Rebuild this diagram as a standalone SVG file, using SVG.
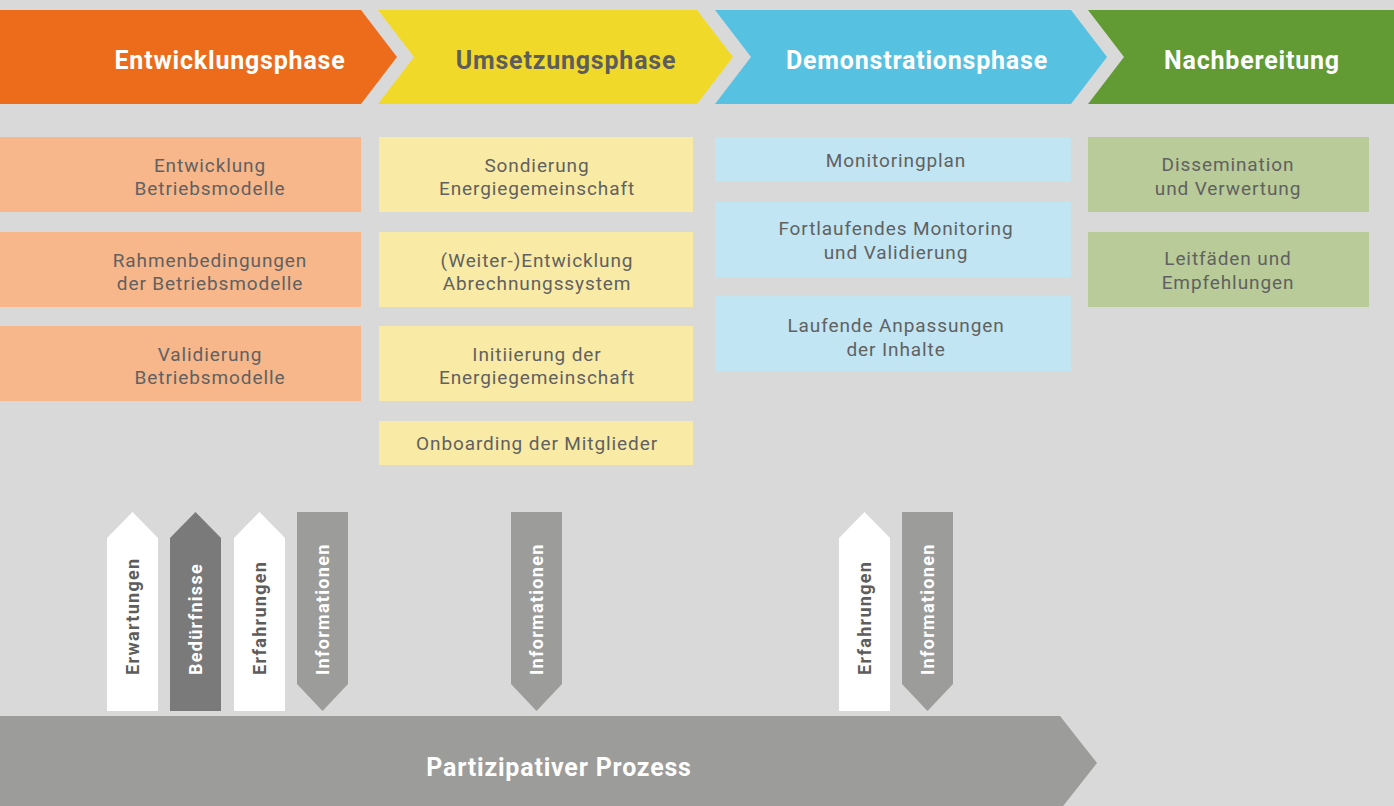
<svg xmlns="http://www.w3.org/2000/svg" width="1394" height="806" viewBox="0 0 1394 806">
  <style>
    .title { font-family: Roboto, "Liberation Sans", sans-serif; font-weight: 700; font-size: 25px; text-anchor: middle; letter-spacing: 0.8px; }
    .light { fill: #ffffff; }
    .dark { fill: #5d5d5d; }
    .box-text { font-family: Roboto, "Liberation Sans", sans-serif; font-size: 19px; fill: #616161; text-anchor: middle; letter-spacing: 0.9px; }
    .vert { font-family: Roboto, "Liberation Sans", sans-serif; font-weight: 700; font-size: 18px; letter-spacing: 1.3px; }
    .o1 { fill: #ec6c1b; } .o2 { fill: #f7b78b; }
    .y1 { fill: #f1d92a; } .y2 { fill: #f9eba6; }
    .b1 { fill: #56c1e1; } .b2 { fill: #c1e5f3; }
    .g1 { fill: #629b34; } .g2 { fill: #b9cb99; }
    .a-white { fill: #ffffff; } .a-dark { fill: #7a7a7a; } .a-mid { fill: #9c9c9b; }
  </style>

  <rect width="1394" height="806" fill="#d9d9d9"/>

  <!-- phase chevrons -->
  <g id="phase-entwicklung">
    <polygon class="o1" points="0,10 361,10 397,57 361,104 0,104"/>
    <text class="title light" x="230" y="69">Entwicklungsphase</text>
  </g>
  <g id="phase-umsetzung">
    <polygon class="y1" points="378,10 697,10 733,57 697,104 378,104 414,57"/>
    <text class="title dark" x="566" y="69">Umsetzungsphase</text>
  </g>
  <g id="phase-demonstration">
    <polygon class="b1" points="715,10 1071,10 1107,57 1071,104 715,104 751,57"/>
    <text class="title light" x="917" y="69">Demonstrationsphase</text>
  </g>
  <g id="phase-nachbereitung">
    <polygon class="g1" points="1088,10 1394,10 1394,104 1088,104 1124,57"/>
    <text class="title light" x="1252" y="69">Nachbereitung</text>
  </g>

  <!-- Entwicklungsphase tasks -->
  <g id="task-entwicklung-betriebsmodelle">
    <rect class="o2" x="0" y="137" width="361" height="75"/>
    <text class="box-text" x="210" y="172">Entwicklung</text>
    <text class="box-text" x="210" y="195">Betriebsmodelle</text>
  </g>
  <g id="task-rahmenbedingungen">
    <rect class="o2" x="0" y="232" width="361" height="75"/>
    <text class="box-text" x="210" y="267">Rahmenbedingungen</text>
    <text class="box-text" x="210" y="290">der Betriebsmodelle</text>
  </g>
  <g id="task-validierung-betriebsmodelle">
    <rect class="o2" x="0" y="326" width="361" height="75"/>
    <text class="box-text" x="210" y="361">Validierung</text>
    <text class="box-text" x="210" y="384">Betriebsmodelle</text>
  </g>

  <!-- Umsetzungsphase tasks -->
  <g id="task-sondierung">
    <rect class="y2" x="379" y="137" width="314" height="75"/>
    <text class="box-text" x="537" y="172">Sondierung</text>
    <text class="box-text" x="537" y="195">Energiegemeinschaft</text>
  </g>
  <g id="task-abrechnungssystem">
    <rect class="y2" x="379" y="232" width="314" height="75"/>
    <text class="box-text" x="537" y="267">(Weiter-)Entwicklung</text>
    <text class="box-text" x="537" y="290">Abrechnungssystem</text>
  </g>
  <g id="task-initiierung">
    <rect class="y2" x="379" y="326" width="314" height="75"/>
    <text class="box-text" x="537" y="361">Initiierung der</text>
    <text class="box-text" x="537" y="384">Energiegemeinschaft</text>
  </g>
  <g id="task-onboarding">
    <rect class="y2" x="379" y="421" width="314" height="44"/>
    <text class="box-text" x="537" y="450">Onboarding der Mitglieder</text>
  </g>

  <!-- Demonstrationsphase tasks -->
  <g id="task-monitoringplan">
    <rect class="b2" x="715" y="137" width="356" height="45"/>
    <text class="box-text" x="896" y="167">Monitoringplan</text>
  </g>
  <g id="task-monitoring">
    <rect class="b2" x="715" y="202" width="356" height="75"/>
    <text class="box-text" x="896" y="235">Fortlaufendes Monitoring</text>
    <text class="box-text" x="896" y="259">und Validierung</text>
  </g>
  <g id="task-anpassungen">
    <rect class="b2" x="715" y="296" width="356" height="75"/>
    <text class="box-text" x="896" y="332">Laufende Anpassungen</text>
    <text class="box-text" x="896" y="356">der Inhalte</text>
  </g>

  <!-- Nachbereitung tasks -->
  <g id="task-dissemination">
    <rect class="g2" x="1088" y="137" width="281" height="75"/>
    <text class="box-text" x="1228" y="171">Dissemination</text>
    <text class="box-text" x="1228" y="195">und Verwertung</text>
  </g>
  <g id="task-leitfaeden">
    <rect class="g2" x="1088" y="232" width="281" height="75"/>
    <text class="box-text" x="1228" y="265">Leitfäden und</text>
    <text class="box-text" x="1228" y="289">Empfehlungen</text>
  </g>

  <!-- participation flows: upward = input, downward = information -->
  <g id="flows">
    <g id="flow-erwartungen">
      <polygon class="a-white" points="107,538 132.5,512 158,538 158,711 107,711"/>
      <text class="vert dark" transform="translate(139,675) rotate(-90)">Erwartungen</text>
    </g>
    <g id="flow-beduerfnisse">
      <polygon class="a-dark" points="170,538 195.5,512 221,538 221,711 170,711"/>
      <text class="vert light" transform="translate(202,675) rotate(-90)">Bedürfnisse</text>
    </g>
    <g id="flow-erfahrungen-1">
      <polygon class="a-white" points="234,538 259.5,512 285,538 285,711 234,711"/>
      <text class="vert dark" transform="translate(266,675) rotate(-90)">Erfahrungen</text>
    </g>
    <g id="flow-informationen-1">
      <polygon class="a-mid" points="297,512 348,512 348,684 322.5,711 297,684"/>
      <text class="vert light" transform="translate(329,675) rotate(-90)">Informationen</text>
    </g>
    <g id="flow-informationen-2">
      <polygon class="a-mid" points="511,512 562,512 562,684 536.5,711 511,684"/>
      <text class="vert light" transform="translate(543,675) rotate(-90)">Informationen</text>
    </g>
    <g id="flow-erfahrungen-2">
      <polygon class="a-white" points="839,538 864.5,512 890,538 890,711 839,711"/>
      <text class="vert dark" transform="translate(871,675) rotate(-90)">Erfahrungen</text>
    </g>
    <g id="flow-informationen-3">
      <polygon class="a-mid" points="902,512 953,512 953,684 927.5,711 902,684"/>
      <text class="vert light" transform="translate(934,675) rotate(-90)">Informationen</text>
    </g>
  </g>

  <!-- participatory process band -->
  <g id="process-band">
    <polygon class="a-mid" points="0,716 1060,716 1097,763 1060,810 0,810"/>
    <text class="title light" x="559" y="776">Partizipativer Prozess</text>
  </g>
</svg>
